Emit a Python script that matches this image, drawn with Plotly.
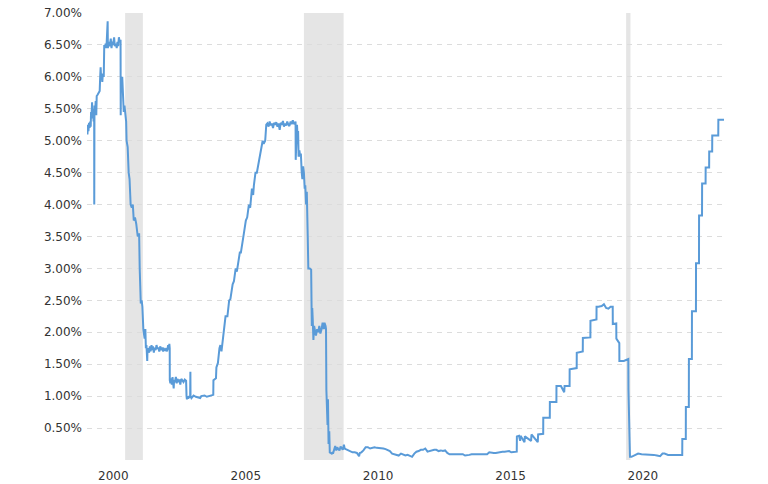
import plotly.graph_objects as go

dates = [
    "1999-09-22","1999-09-28","1999-10-05","1999-10-12","1999-10-20","1999-10-28","1999-11-05","1999-11-12","1999-11-17","1999-11-24",
    "1999-12-01","1999-12-08","1999-12-15","1999-12-22","1999-12-30","1999-12-31","2000-01-03","2000-01-10","2000-01-20","2000-01-28",
    "2000-02-03","2000-02-15","2000-03-01","2000-03-15","2000-03-22","2000-03-28","2000-04-05","2000-04-12","2000-04-20","2000-04-28",
    "2000-05-10","2000-05-17","2000-05-25","2000-06-05","2000-06-12","2000-06-20","2000-07-03","2000-07-06","2000-07-15","2000-08-01",
    "2000-08-15","2000-08-25","2000-09-05","2000-09-15","2000-09-30","2000-10-10","2000-10-25","2000-11-05","2000-11-15","2000-11-25",
    "2000-12-05","2000-12-15","2000-12-28","2000-12-30","2001-01-03","2001-01-10","2001-01-20","2001-01-31","2001-02-10","2001-02-20",
    "2001-03-05","2001-03-15","2001-03-21","2001-04-05","2001-04-19","2001-05-01","2001-05-16","2001-06-01","2001-06-15","2001-06-28",
    "2001-07-15","2001-08-01","2001-08-22","2001-09-05","2001-09-10","2001-09-18","2001-09-24","2001-10-01","2001-10-03","2001-10-15",
    "2001-10-25","2001-11-07","2001-11-15","2001-11-25","2001-12-05","2001-12-12","2001-12-20","2001-12-31","2002-01-03","2002-01-15",
    "2002-01-25","2002-02-05","2002-02-15","2002-02-28","2002-03-10","2002-03-20","2002-04-01","2002-04-12","2002-04-25","2002-05-08",
    "2002-05-20","2002-06-01","2002-06-15","2002-06-30","2002-07-10","2002-07-25","2002-08-08","2002-08-20","2002-09-05","2002-09-20",
    "2002-10-01","2002-10-15","2002-10-25","2002-11-01","2002-11-06","2002-11-07","2002-11-15","2002-11-25","2002-12-05","2002-12-15",
    "2002-12-31","2003-01-05","2003-01-15","2003-01-30","2003-02-10","2003-02-20","2003-03-05","2003-03-20","2003-04-01","2003-04-15",
    "2003-05-01","2003-05-15","2003-06-01","2003-06-20","2003-06-26","2003-07-01","2003-07-10","2003-07-20","2003-08-01","2003-08-15",
    "2003-08-18","2003-08-20","2003-09-01","2003-10-01","2003-11-01","2003-12-31","2004-01-15","2004-03-01","2004-04-01","2004-05-01",
    "2004-06-01","2004-06-29","2004-07-01","2004-08-05","2004-08-11","2004-09-01","2004-09-22","2004-10-05","2004-10-20","2004-11-11",
    "2004-11-25","2004-12-15","2005-01-10","2005-02-03","2005-02-20","2005-03-23","2005-04-10","2005-05-04","2005-05-20","2005-06-30",
    "2005-07-15","2005-08-10","2005-08-25","2005-09-21","2005-10-10","2005-11-02","2005-11-20","2005-12-14","2005-12-31","2006-01-10",
    "2006-02-01","2006-02-20","2006-03-29","2006-04-15","2006-05-11","2006-05-25","2006-06-15","2006-06-30","2006-07-15","2006-08-01",
    "2006-08-15","2006-09-01","2006-09-15","2006-10-01","2006-10-15","2006-11-01","2006-11-15","2006-12-01","2006-12-15","2007-01-01",
    "2007-01-15","2007-02-01","2007-02-15","2007-03-01","2007-03-15","2007-04-01","2007-04-15","2007-05-01","2007-05-15","2007-06-01",
    "2007-06-15","2007-07-01","2007-07-15","2007-08-01","2007-08-08","2007-08-10","2007-08-16","2007-08-22","2007-08-28","2007-09-05",
    "2007-09-12","2007-09-19","2007-09-30","2007-10-10","2007-10-20","2007-11-01","2007-11-10","2007-11-20","2007-12-01","2007-12-12",
    "2007-12-20","2007-12-31","2008-01-10","2008-01-23","2008-01-31","2008-02-20","2008-03-10","2008-03-19","2008-03-25","2008-04-01",
    "2008-04-10","2008-04-20","2008-05-01","2008-05-15","2008-06-01","2008-06-15","2008-07-01","2008-07-15","2008-08-01","2008-08-15",
    "2008-09-01","2008-09-10","2008-09-25","2008-10-01","2008-10-06","2008-10-15","2008-10-22","2008-10-28","2008-11-05","2008-11-15",
    "2008-11-22","2008-12-20","2008-12-31","2009-01-05","2009-01-15","2009-01-25","2009-02-05","2009-02-20","2009-03-05","2009-03-20",
    "2009-04-05","2009-04-20","2009-05-05","2009-05-20","2009-06-05","2009-06-15","2009-07-01","2009-08-01","2009-09-01","2009-10-01",
    "2009-11-01","2009-12-01","2009-12-31","2010-01-10","2010-02-01","2010-03-01","2010-04-01","2010-05-01","2010-06-01","2010-07-01",
    "2010-08-01","2010-09-01","2010-10-01","2010-11-01","2010-12-01","2011-01-01","2011-02-01","2011-03-01","2011-04-01","2011-05-01",
    "2011-06-01","2011-07-01","2011-08-01","2011-09-01","2011-10-01","2011-11-01","2011-12-01","2012-01-01","2012-02-01","2012-03-01",
    "2012-04-01","2012-05-01","2012-06-01","2012-07-01","2012-08-01","2012-09-01","2012-10-01","2012-11-01","2012-12-01","2013-01-01",
    "2013-02-01","2013-03-01","2013-04-01","2013-05-01","2013-06-01","2013-07-01","2013-08-01","2013-09-01","2013-10-01","2013-11-01",
    "2013-12-01","2014-01-01","2014-02-01","2014-03-01","2014-04-01","2014-05-01","2014-06-01","2014-07-01","2014-08-01","2014-09-01",
    "2014-10-01","2014-11-01","2014-12-01","2015-01-01","2015-02-01","2015-03-01","2015-04-01","2015-05-01","2015-06-01","2015-07-01",
    "2015-08-01","2015-09-01","2015-10-01","2015-11-01","2015-12-15","2015-12-17","2016-01-15","2016-01-31","2016-02-05","2016-03-31",
    "2016-04-05","2016-06-30","2016-07-05","2016-09-30","2016-10-05","2016-12-14","2016-12-15","2017-01-15","2017-03-15","2017-03-16",
    "2017-06-14","2017-06-15","2017-08-15","2017-09-30","2017-10-05","2017-12-13","2017-12-14","2018-03-21","2018-03-22","2018-06-13",
    "2018-06-14","2018-09-26","2018-09-27","2018-12-19","2018-12-20","2019-01-15","2019-03-01","2019-04-01","2019-05-01","2019-06-01",
    "2019-07-01","2019-07-31","2019-08-01","2019-09-18","2019-09-19","2019-10-30","2019-10-31","2019-12-31","2020-02-15","2020-03-02",
    "2020-03-04","2020-03-16","2020-03-25","2020-04-15","2020-06-01","2020-07-15","2020-09-01","2020-11-01","2021-01-01","2021-02-15",
    "2021-04-01","2021-05-15","2021-06-17","2021-07-15","2021-09-01","2021-11-01","2022-01-01","2022-03-16","2022-03-17","2022-05-04",
    "2022-05-05","2022-06-15","2022-06-16","2022-07-27","2022-07-28","2022-09-21","2022-09-22","2022-11-02","2022-11-03","2022-12-14",
    "2022-12-15","2023-02-01","2023-02-02","2023-03-22","2023-03-23","2023-05-03","2023-05-04","2023-07-26","2023-07-27","2023-10-13",
]

rates = [
    5.20,5.10,5.25,5.15,5.28,5.20,5.30,5.22,5.45,5.40,
    5.60,5.35,5.50,5.30,5.45,4.00,5.55,5.40,5.62,5.40,
    5.70,5.72,5.75,5.78,6.00,6.15,5.95,6.05,5.92,6.05,
    6.00,6.50,6.45,6.52,6.45,6.55,6.87,6.45,6.55,6.48,
    6.60,6.45,6.55,6.50,6.62,6.48,6.52,6.45,6.55,6.48,
    6.62,6.55,6.58,5.40,6.00,5.95,6.00,5.50,5.45,5.55,
    5.45,5.30,5.00,4.90,4.50,4.40,4.00,3.95,4.00,3.75,
    3.80,3.70,3.50,3.55,3.55,3.00,2.45,2.52,2.45,2.50,
    2.40,2.05,2.00,1.90,2.05,1.75,1.80,1.55,1.70,1.75,
    1.68,1.78,1.70,1.80,1.72,1.78,1.68,1.76,1.72,1.80,
    1.74,1.76,1.70,1.78,1.72,1.76,1.70,1.74,1.72,1.75,
    1.70,1.80,1.73,1.82,1.75,1.25,1.20,1.28,1.18,1.30,
    1.12,1.25,1.22,1.30,1.20,1.27,1.22,1.26,1.18,1.27,
    1.24,1.22,1.26,1.24,1.00,0.95,1.00,0.96,1.00,0.98,
    1.38,1.00,0.97,1.01,0.99,0.97,1.00,1.01,0.99,1.00,
    1.01,1.02,1.25,1.28,1.45,1.52,1.75,1.80,1.70,1.95,
    2.00,2.25,2.25,2.50,2.52,2.75,2.80,3.00,2.95,3.25,
    3.25,3.50,3.55,3.75,3.80,4.00,3.95,4.25,4.15,4.30,
    4.50,4.50,4.75,4.80,5.00,4.95,5.00,5.25,5.27,5.22,
    5.30,5.24,5.27,5.20,5.28,5.25,5.29,5.22,5.27,5.17,
    5.28,5.25,5.31,5.22,5.27,5.24,5.30,5.25,5.23,5.30,
    5.26,5.32,5.26,5.28,5.30,4.70,5.05,4.85,5.25,5.05,
    5.15,4.75,4.85,4.75,4.80,4.50,4.40,4.60,4.50,4.25,
    4.30,4.00,4.20,3.50,3.00,3.00,2.98,2.10,2.38,2.20,
    1.88,2.10,2.00,1.95,2.05,2.00,2.10,1.98,2.05,2.15,
    2.05,2.15,2.10,2.05,1.10,0.90,0.55,0.95,0.25,0.45,
    0.12,0.10,0.12,0.10,0.15,0.20,0.22,0.15,0.20,0.17,
    0.15,0.21,0.18,0.16,0.24,0.18,0.17,0.15,0.14,0.12,
    0.12,0.11,0.06,0.11,0.12,0.15,0.20,0.20,0.18,0.19,
    0.20,0.19,0.19,0.19,0.18,0.17,0.15,0.14,0.10,0.09,
    0.09,0.07,0.10,0.08,0.07,0.08,0.07,0.05,0.10,0.13,
    0.14,0.16,0.16,0.18,0.13,0.14,0.16,0.16,0.16,0.14,
    0.15,0.14,0.15,0.11,0.09,0.09,0.08,0.08,0.09,0.08,
    0.09,0.07,0.07,0.08,0.09,0.09,0.10,0.09,0.09,0.09,
    0.09,0.09,0.12,0.11,0.11,0.11,0.12,0.12,0.13,0.13,
    0.14,0.14,0.12,0.12,0.13,0.37,0.38,0.30,0.38,0.28,
    0.37,0.30,0.40,0.28,0.40,0.41,0.66,0.66,0.66,0.91,
    0.91,1.16,1.16,1.06,1.16,1.16,1.42,1.44,1.68,1.70,
    1.91,1.92,2.18,2.20,2.40,2.40,2.41,2.44,2.38,2.37,
    2.40,2.40,2.13,2.14,1.90,1.83,1.55,1.55,1.58,1.58,
    1.10,0.25,0.05,0.05,0.08,0.10,0.09,0.09,0.09,0.08,
    0.07,0.06,0.10,0.10,0.08,0.08,0.08,0.08,0.33,0.33,
    0.83,0.83,1.58,1.58,2.33,2.33,3.08,3.08,3.83,3.83,
    4.33,4.33,4.58,4.58,4.83,4.83,5.08,5.08,5.33,5.33,
]

recession_start = ["2001-03-01", "2007-12-01", "2020-02-01"]
recession_end = ["2001-11-01", "2009-06-01", "2020-04-01"]

year_ticks = ["2000-01-01", "2005-01-01", "2010-01-01", "2015-01-01", "2020-01-01"]
year_labels = ["2000", "2005", "2010", "2015", "2020"]

y_ticks = [0, 0.5, 1, 1.5, 2, 2.5, 3, 3.5, 4, 4.5, 5, 5.5, 6, 6.5, 7]
y_labels = ["" if v == 0 else f"{v:.2f}%" for v in y_ticks]

fig = go.Figure()
fig.add_trace(go.Scatter(
    x=dates, y=rates, mode="lines",
    line=dict(color="#5a9bd8", width=2),
    hoverinfo="x+y", showlegend=False,
))

for s, e in zip(recession_start, recession_end):
    fig.add_shape(type="rect", xref="x", yref="paper", x0=s, x1=e, y0=0, y1=1,
                  fillcolor="#e5e5e5", line=dict(width=0), layer="below")

fig.update_layout(
    width=768, height=484,
    margin=dict(l=87, r=44, t=13, b=24, autoexpand=False),
    paper_bgcolor="white", plot_bgcolor="white",
    font=dict(family="DejaVu Sans", size=12, color="#333333"),
    showlegend=False,
)
fig.update_xaxes(
    type="date", range=[dates[0], dates[-1]],
    tickvals=year_ticks, ticktext=year_labels,
    ticklabelshift=19, ticklabelstandoff=7, automargin=False,
    showgrid=False, zeroline=False, showline=False, ticks="",
)
fig.update_yaxes(
    range=[0, 7], tickvals=y_ticks, ticktext=y_labels,
    showgrid=True, gridcolor="#dcdcdc", gridwidth=1, griddash="5px,5px",
    zeroline=False, showline=False, ticks="", ticklabelstandoff=4, automargin=False,
)

fig.write_html(
    "out.html",
    config={"displayModeBar": False},
    post_script="document.body.style.margin='0';document.body.style.overflow='hidden';",
)
